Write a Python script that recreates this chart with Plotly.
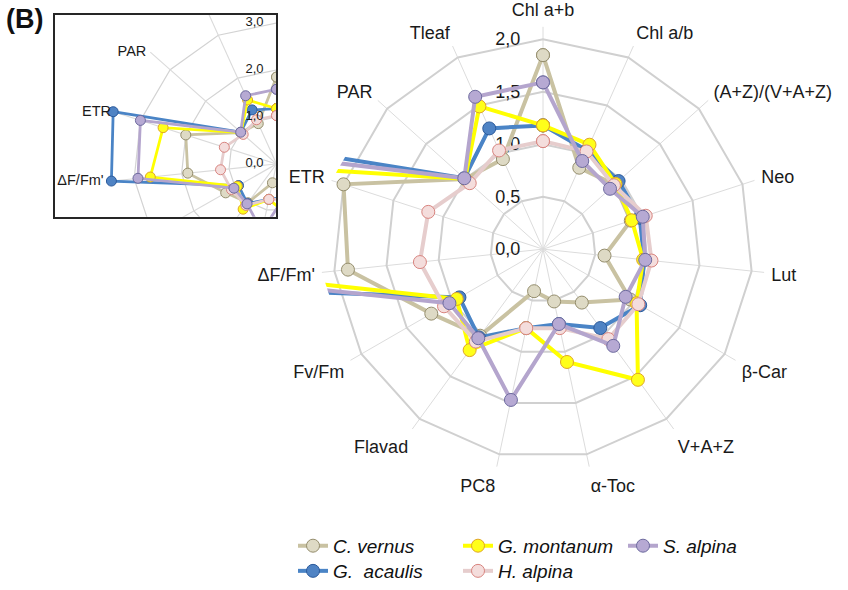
import math
import plotly.graph_objects as go

# ---- data -------------------------------------------------------------
categories = ["Chl a+b", "Chl a/b", "(A+Z)/(V+A+Z)", "Neo", "Lut", "β-Car",
              "V+A+Z", "α-Toc", "PC8", "Flavad", "Fv/Fm", "ΔF/Fm'", "ETR",
              "PAR", "Tleaf"]

c_vernus = [1.85, 0.85, 0.92, 0.88, 0.59, 0.96, 0.63, 0.51, 0.41, 1.02,
            1.23, 1.87, 2.00, 1.00, 0.94]
g_acaulis = [1.18, 1.03, 0.97, 0.97, 0.97, 1.07, 0.93, 0.73, 0.77, 1.04,
             0.92, 3.48, 3.60, 1.01, 1.26]
g_montanum = [1.18, 1.09, 0.93, 0.89, 0.96, 1.03, 1.54, 1.10, 0.77, 1.19,
              0.95, 2.66, 2.50, 1.00, 1.49]
h_alpina = [1.03, 1.02, 0.91, 1.03, 1.04, 1.05, 1.06, 0.77, 0.77, 1.09,
            1.09, 1.18, 1.15, 0.94, 1.03]
s_alpina = [1.59, 0.92, 0.86, 1.00, 0.98, 0.91, 1.14, 0.73, 1.47, 1.05,
            1.03, 2.92, 3.00, 1.01, 1.59]

species_names = ["C. vernus", "G.  acaulis", "G. montanum", "H. alpina", "S. alpina"]
species_values = [c_vernus, g_acaulis, g_montanum, h_alpina, s_alpina]

main_tickvals = [0.0, 0.5, 1.0, 1.5, 2.0]
main_ticktext = ["0,0", "0,5", "1,0", "1,5", "2,0"]
inset_tickvals = [0.0, 1.0, 2.0, 3.0]
inset_ticktext = ["0,0", "1,0", "2,0", "3,0"]
inset_rings = [1.0, 2.0, 3.0]
inset_labels = ["PAR", "ETR", "ΔF/Fm'"]

# ---- styling ----------------------------------------------------------
W, H = 848, 590
FONT = "Liberation Sans, Arial, sans-serif"

styles = {
    "C. vernus":   dict(line="#c9c2a2", fill="#dedac5", edge="#958e6e", legend="legend"),
    "G.  acaulis": dict(line="#4a84c6", fill="#4f83c4", edge="#2b5a9b", legend="legend2"),
    "G. montanum": dict(line="#ffff00", fill="#ffff1a", edge="#e0a526", legend="legend"),
    "H. alpina":   dict(line="#e6cdcd", fill="#f4dddc", edge="#d8847f", legend="legend2"),
    "S. alpina":   dict(line="#b4a5cd", fill="#b6a9d3", edge="#6d6a9e", legend="legend"),
}

# main radar geometry (pixels)
CX, CY = 543, 253          # centre
PX_UNIT = 106.5            # pixels per radial unit
R_MAX = 2.12               # spokes reach a little beyond the 2,0 ring
rad_px = R_MAX * PX_UNIT

# inset geometry (pixels)
IN_L, IN_R, IN_T, IN_B = 55, 276, 15, 220
IN_CX, IN_CY = 276.5, 166.5
IN_UNIT = 47.7
IN_SPOKE = 3.56
IN_LABEL_GAP = 4 / IN_UNIT

fig = go.Figure()

# ---- main radar -------------------------------------------------------
for name, vals in zip(species_names, species_values):
    st = styles[name]
    fig.add_trace(go.Scatterpolar(
        r=vals + vals[:1],
        theta=categories + categories[:1],
        mode="lines+markers",
        name=name,
        legend=st["legend"],
        line=dict(color=st["line"], width=4),
        marker=dict(size=13, color=st["fill"], line=dict(color=st["edge"], width=1)),
        subplot="polar",
    ))

# ---- inset: the same radar at a larger radial extent -----------------
n = len(categories)
angles = [math.radians(90 - 360.0 * k / n) for k in range(n)]

# rings
ring_x, ring_y = [], []
for v in inset_rings:
    for a in angles + angles[:1]:
        ring_x.append(v * math.cos(a))
        ring_y.append(v * math.sin(a))
    ring_x.append(None)
    ring_y.append(None)
fig.add_trace(go.Scatter(x=ring_x, y=ring_y, mode="lines", showlegend=False,
                         hoverinfo="skip", line=dict(color="#d3d3d3", width=1.2)))

# spokes
sp_x, sp_y = [], []
for a in angles:
    sp_x += [0, IN_SPOKE * math.cos(a), None]
    sp_y += [0, IN_SPOKE * math.sin(a), None]
fig.add_trace(go.Scatter(x=sp_x, y=sp_y, mode="lines", showlegend=False,
                         hoverinfo="skip", line=dict(color="#dadada", width=1.1)))

for name, vals in zip(species_names, species_values):
    st = styles[name]
    xs = [v * math.cos(a) for v, a in zip(vals, angles)]
    ys = [v * math.sin(a) for v, a in zip(vals, angles)]
    fig.add_trace(go.Scatter(
        x=xs + xs[:1], y=ys + ys[:1], mode="lines+markers", showlegend=False,
        line=dict(color=st["line"], width=2.8),
        marker=dict(size=10, color=st["fill"], line=dict(color=st["edge"], width=1)),
    ))

# inset category labels just outside the spoke ends
lab_x, lab_y = [], []
for lab in inset_labels:
    a = angles[categories.index(lab)]
    lab_x.append(IN_SPOKE * math.cos(a) - IN_LABEL_GAP)
    lab_y.append(IN_SPOKE * math.sin(a))
fig.add_trace(go.Scatter(x=lab_x, y=lab_y, text=inset_labels, mode="text",
                         textposition="middle left", showlegend=False, hoverinfo="skip",
                         textfont=dict(size=14.5, color="#1a1a1a", family=FONT)))

# inset radial tick labels along the top spoke
fig.add_trace(go.Scatter(x=[-0.27] * len(inset_tickvals), y=inset_tickvals,
                         text=inset_ticktext, mode="text", textposition="middle left",
                         showlegend=False, hoverinfo="skip",
                         textfont=dict(size=13, color="#1a1a1a", family=FONT)))

# ---- layout -----------------------------------------------------------
x_range = [(IN_L - IN_CX) / IN_UNIT, (IN_R - IN_CX) / IN_UNIT]
y_range = [-(IN_B - IN_CY) / IN_UNIT, (IN_CY - IN_T) / IN_UNIT]

legend_common = dict(
    orientation="h", xanchor="left", yanchor="top",
    entrywidth=120, entrywidthmode="pixels",
    font=dict(family=FONT, size=19, color="#111111", style="italic"),
    bgcolor="rgba(0,0,0,0)", tracegroupgap=0,
)

fig.update_layout(
    width=W, height=H,
    margin=dict(l=0, r=0, t=0, b=0),
    paper_bgcolor="white",
    plot_bgcolor="white",
    font=dict(family=FONT, size=18, color="#1a1a1a"),
    polar=dict(
        domain=dict(x=[(CX - rad_px) / W, (CX + rad_px) / W],
                    y=[1 - (CY + rad_px) / H, 1 - (CY - rad_px) / H]),
        bgcolor="white",
        gridshape="linear",
        radialaxis=dict(
            range=[0, R_MAX], tickvals=main_tickvals, ticktext=main_ticktext,
            angle=90, tickangle=90, side="counterclockwise",
            showline=False, ticks="outside", ticklen=16,
            tickcolor="rgba(0,0,0,0)", layer="below traces",
            gridcolor="#d0d0d0", gridwidth=1.6,
            tickfont=dict(size=18, color="#1a1a1a"),
        ),
        angularaxis=dict(
            type="category", categoryarray=categories,
            direction="clockwise", rotation=90,
            showline=False, ticks="outside", ticklen=3,
            tickcolor="rgba(0,0,0,0)", layer="below traces",
            gridcolor="#dcdcdc", gridwidth=1.3,
            tickfont=dict(size=18, color="#1a1a1a"),
        ),
    ),
    xaxis=dict(domain=[IN_L / W, IN_R / W], range=x_range,
               showgrid=False, zeroline=False, showticklabels=False, ticks="",
               showline=True, mirror=True, linecolor="#262626", linewidth=1.5,
               fixedrange=True),
    yaxis=dict(domain=[1 - IN_B / H, 1 - IN_T / H], range=y_range,
               showgrid=False, zeroline=False, showticklabels=False, ticks="",
               showline=True, mirror=True, linecolor="#262626", linewidth=1.5,
               fixedrange=True),
    legend=dict(x=293 / W, y=1 - 535 / H, **legend_common),
    legend2=dict(x=293 / W, y=1 - 561 / H, **legend_common),
    annotations=[dict(
        text="<b>(B)</b>", x=4 / W, y=1 - 2 / H, xref="paper", yref="paper",
        xanchor="left", yanchor="top", showarrow=False,
        font=dict(family=FONT, size=27, color="#111111"),
    )],
)

fig.write_html("out.html")
